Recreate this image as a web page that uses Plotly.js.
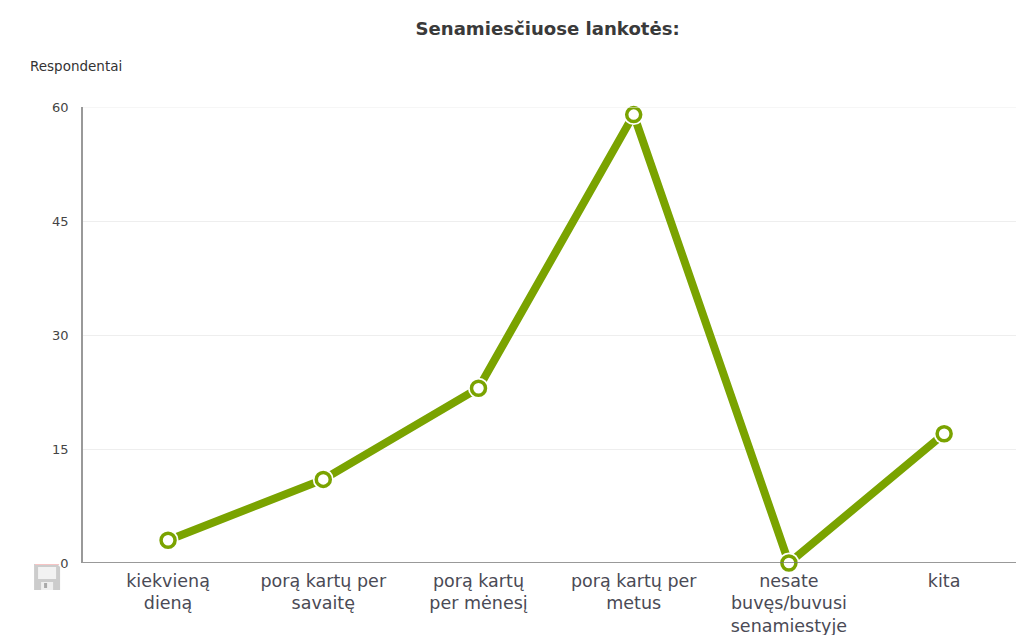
<!DOCTYPE html>
<html><head><meta charset="utf-8">
<script src="https://cdn.plot.ly/plotly-3.0.1.min.js"></script>
<style>html,body{margin:0;padding:0;background:#fff;overflow:hidden}#c{width:1016px;height:635px}</style>
</head><body><div id="c"></div>
<script>
const categories = ["kiekvieną<br>dieną","porą kartų per<br>savaitę","porą kartų<br>per mėnesį","porą kartų per<br>metus","nesate<br>buvęs/buvusi<br>senamiestyje","kita"];
const values = [3, 11, 23, 59, 0, 17];
const yTicks = [0, 15, 30, 45, 60];
const GREEN = "#7aa300", FONT = "DejaVu Sans, Verdana, sans-serif";
const icon = "data:image/svg+xml," + encodeURIComponent('<svg xmlns="http://www.w3.org/2000/svg" width="28" height="28"><path d="M1 1H24L27 4V27H1Z" fill="#cccccc"/><rect x="2" y="1" width="24" height="1" fill="#f6c4c4"/><rect x="5" y="4" width="18" height="12" fill="#f2f2f2"/><rect x="8" y="19" width="12" height="8" fill="#efefef"/><rect x="11" y="20" width="3" height="5" fill="#aaa"/></svg>');
const idx = categories.map((_, i) => i);
const traces = [
  {x: idx, y: values, mode: "lines", line: {color: GREEN, width: 8}, hoverinfo: "skip", cliponaxis: false},
  {x: idx, y: values, mode: "markers", marker: {color: "#fff", size: 21}, hoverinfo: "skip", cliponaxis: false},
  {x: idx, y: values, mode: "markers", marker: {color: "#fff", size: 14, line: {color: GREEN, width: 3.5}}, cliponaxis: false}
];
const layout = {
  width: 1016, height: 635, showlegend: false,
  paper_bgcolor: "#fff", plot_bgcolor: "#fff",
  margin: {l: 83, r: 0, t: 107, b: 72, pad: 0},
  title: {text: "<b>Senamiesčiuose lankotės:</b>", x: 0.539, xanchor: "center", y: 0.955, yanchor: "middle", font: {family: FONT, size: 18.1, color: "#3a3a3a"}},
  xaxis: {type: "linear", range: [-0.548, 5.463], tickmode: "array", tickvals: idx, ticktext: categories, ticks: "", showgrid: false, zeroline: false, showline: false, ticklabelstandoff: 5, tickfont: {family: FONT, size: 17.5, color: "#4a4a55"}},
  yaxis: {range: [0, 60], tickmode: "array", tickvals: yTicks, ticktext: yTicks.map(String), ticks: "", showgrid: true, gridcolor: "#eeeeee", gridwidth: 1, zeroline: false, showline: true, linecolor: "#999", linewidth: 1.5, ticklabelstandoff: 10, tickfont: {family: FONT, size: 13, color: "#444"}},
  shapes: [
    {type: "line", xref: "paper", yref: "y", x0: 0, x1: 1, y0: 0, y1: 0, line: {color: "#777", width: 1.5}},
    {type: "line", xref: "paper", yref: "y", x0: 0, x1: 1, y0: 60, y1: 60, line: {color: "#eeeeee", width: 1}}
  ],
  annotations: [{text: "Respondentai", xref: "paper", yref: "paper", x: -0.0592, y: 1.09, xanchor: "left", yanchor: "middle", showarrow: false, font: {family: FONT, size: 13.5, color: "#333"}}],
  images: [{source: icon, xref: "paper", yref: "paper", x: -0.0535, y: 0.0, sizex: 0.03, sizey: 0.0614, xanchor: "left", yanchor: "top", sizing: "stretch", layer: "above"}]
};
Plotly.newPlot("c", traces, layout, {displayModeBar: false, responsive: false});
</script></body></html>
